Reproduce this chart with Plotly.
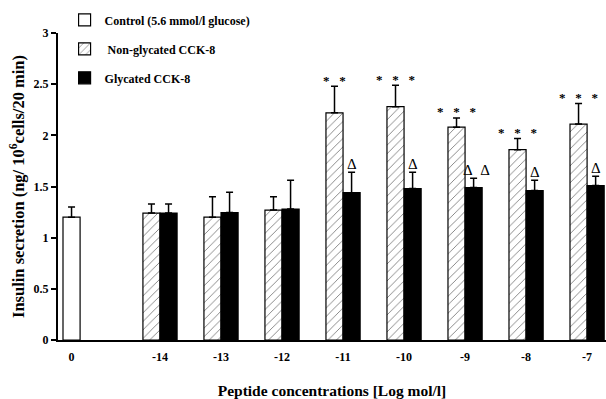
import plotly.graph_objects as go

# ---- data ----
categories = ["-14", "-13", "-12", "-11", "-10", "-9", "-8", "-7"]
control_label = "0"
control_value = 1.20
control_err = 0.10
nonglyc_values = [1.24, 1.20, 1.27, 2.22, 2.28, 2.08, 1.86, 2.11]
nonglyc_err = [0.09, 0.20, 0.13, 0.26, 0.21, 0.09, 0.11, 0.20]
glyc_values = [1.24, 1.245, 1.28, 1.44, 1.48, 1.49, 1.46, 1.51]
glyc_err = [0.09, 0.20, 0.28, 0.20, 0.16, 0.09, 0.10, 0.09]
stars = [0, 0, 0, 2, 3, 3, 3, 3]
deltas = [0, 0, 0, 1, 1, 2, 1, 1]

FONT = "Liberation Serif"
W = 0.28
ctrl_pos = 0.0
gap0 = 1.45
pos = [gap0 + i for i in range(len(categories))]
SEP = "\u00a0\u00a0\u00a0"

fig = go.Figure()
fig.add_trace(go.Bar(
    x=[ctrl_pos], y=[control_value], width=[W], offset=-W / 2,
    name="Control (5.6 mmol/l glucose)", legendgroup="a",
    marker=dict(color="white", line=dict(color="black", width=1.2)),
    error_y=dict(type="data", array=[control_err], arrayminus=[0], symmetric=False,
                 color="black", thickness=1.5, width=3.5),
))
fig.add_trace(go.Bar(
    x=pos, y=nonglyc_values, width=W, offset=-W,
    name=" Non-glycated CCK-8", legendgroup="b",
    marker=dict(color="white", line=dict(color="black", width=1.2),
                pattern=dict(shape="/", fgcolor="black", bgcolor="white", size=6, solidity=0.15)),
    error_y=dict(type="data", array=nonglyc_err, arrayminus=[0] * len(categories), symmetric=False,
                 color="black", thickness=1.5, width=3.5),
))
fig.add_trace(go.Bar(
    x=pos, y=glyc_values, width=W, offset=0,
    name="Glycated CCK-8", legendgroup="c",
    marker=dict(color="black", line=dict(color="black", width=1.2)),
    error_y=dict(type="data", array=glyc_err, arrayminus=[0] * len(categories), symmetric=False,
                 color="black", thickness=1.5, width=3.5),
))

annots = []
for i, p in enumerate(pos):
    if stars[i]:
        annots.append(dict(x=p - W / 2, y=nonglyc_values[i] + nonglyc_err[i] + 0.06,
                           text=SEP.join(["*"] * stars[i]), showarrow=False, yanchor="middle",
                           font=dict(family=FONT, size=13, color="black", weight="bold")))
    if deltas[i]:
        xs = p + W / 2 + (0.04 if deltas[i] > 1 else 0)
        annots.append(dict(x=xs, y=glyc_values[i] + glyc_err[i] - 0.015,
                           text="\u00a0\u00a0".join(["Δ"] * deltas[i]), showarrow=False,
                           yanchor="bottom",
                           font=dict(family=FONT, size=15, color="black")))

fig.update_layout(
    width=606, height=399,
    margin=dict(l=58, r=0, t=33, b=59),
    paper_bgcolor="white", plot_bgcolor="white",
    barmode="overlay",
    showlegend=True,
    legend=dict(x=0.012, y=1.09, xanchor="left", yanchor="top",
                font=dict(family=FONT, size=12, color="black", weight="bold"),
                traceorder="grouped", tracegroupgap=10,
                bgcolor="rgba(0,0,0,0)"),
    annotations=annots,
    font=dict(family=FONT, color="black"),
)
fig.update_xaxes(
    range=[-0.222, 8.76],
    tickvals=[ctrl_pos] + pos, ticktext=[control_label] + categories,
    showline=True, linecolor="black", linewidth=2, ticks="",
    showgrid=False, zeroline=False, ticklabelstandoff=5,
    tickfont=dict(family=FONT, size=12, color="black", weight="bold"),
    title=dict(text="Peptide concentrations [Log mol/l]", standoff=24,
               font=dict(family=FONT, size=15.5, color="black", weight="bold")),
)
fig.update_yaxes(
    range=[0, 3], tickvals=[0, 0.5, 1, 1.5, 2, 2.5, 3],
    ticktext=["0", "0.5", "1", "1.5", "2", "2.5", "3"],
    showline=True, linecolor="black", linewidth=2, ticks="outside", ticklen=5,
    tickwidth=1.5, tickcolor="black",
    showgrid=False, zeroline=False,
    tickfont=dict(family=FONT, size=12, color="black", weight="bold"),
    title=dict(text="Insulin secretion (ng/ 10<sup>6</sup>cells/20 min)", standoff=5,
               font=dict(family=FONT, size=16.5, color="black", weight="bold")),
)
fig.write_html("out.html")
